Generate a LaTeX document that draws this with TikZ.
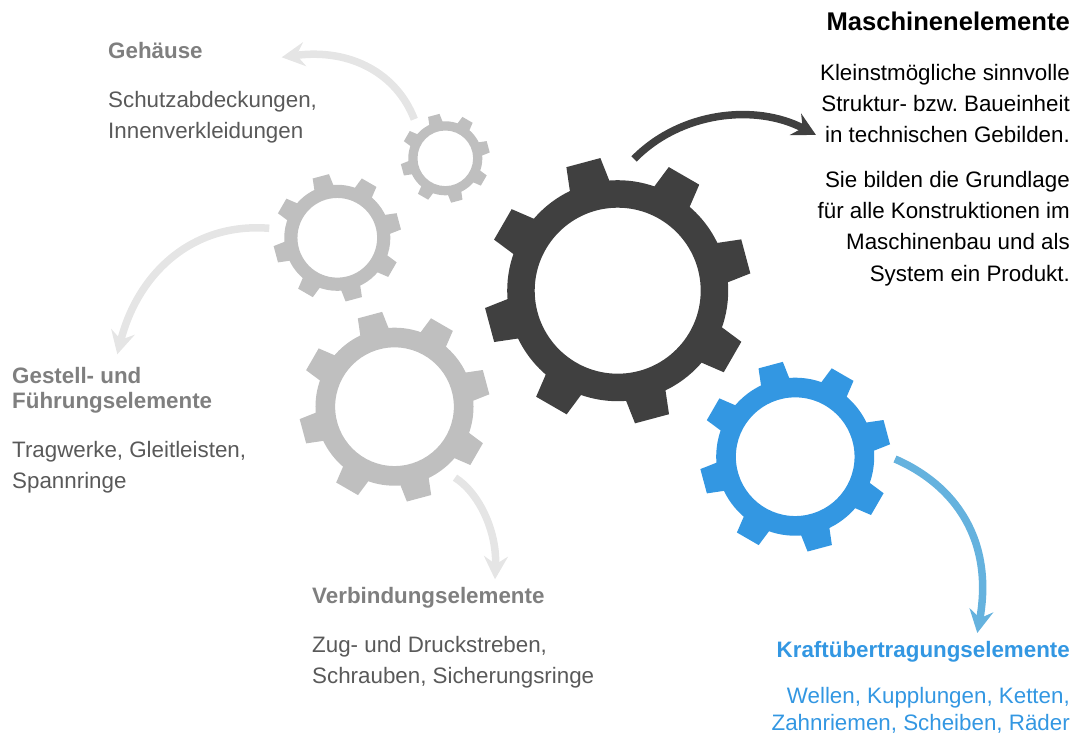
\documentclass[tikz,border=0pt]{standalone}
\usepackage{fontspec}
\setmainfont{Liberation Sans}
\frenchspacing
\usetikzlibrary{arrows.meta}
\definecolor{gearDark}{HTML}{404040}
\definecolor{gearGray}{HTML}{BFBFBF}
\definecolor{gearBlue}{HTML}{3397E2}
\definecolor{arrGray}{HTML}{E5E5E5}
\definecolor{arrBlue}{HTML}{65B2DE}
\definecolor{headGray}{HTML}{7F7F7F}
\definecolor{bodyGray}{HTML}{595959}
\definecolor{textBlue}{HTML}{3397E2}
% #1 centre name, #2 x, #3 y, #4 scale, #5 colour
\newcommand{\gearshape}[5]{%
  \coordinate (#1) at (#2,#3);
  \begin{scope}[shift={(#1)},scale=#4,x=1pt,y=1pt]
    \fill[#5,even odd rule] (0,0) circle[radius=110.5] (0,0) circle[radius=83];
    \foreach \a in {15,60,...,330}{
      \fill[#5,rotate=\a] (105,-20.8) -- (132.6,-17.6) -- (132.6,17.6) -- (105,20.8) -- cycle;
    }
  \end{scope}%
}
\tikzset{
  x=1pt,y=-1pt,
  flow/.style={line width=7.5pt,-{Stealth[length=23pt,width=24pt,inset=8pt]}},
  title/.style={anchor=north west,align=left,font=\fontsize{22.35}{25}\selectfont\bfseries,text=headGray,inner sep=0pt},
  desc/.style={anchor=north west,align=left,font=\fontsize{22.35}{31}\selectfont,text=bodyGray,inner sep=0pt},
  rdesc/.style={anchor=north east,align=right,font=\fontsize{22.35}{31.3}\selectfont,text=black,inner sep=0pt},
}
\begin{document}
\begin{tikzpicture}
\useasboundingbox (0,0) rectangle (1082,746);
\gearshape{g1}{445.3}{158.3}{.335}{gearGray}
\gearshape{g2}{337.3}{237.8}{.48}{gearGray}
\gearshape{g3}{394.5}{406.7}{.715}{gearGray}
\gearshape{g4}{617.7}{290.7}{1}{gearDark}
\gearshape{g5}{795.2}{456.7}{.715}{gearBlue}
\coordinate (a1s) at (414.3,119.3); \coordinate (a1e) at (281.7,57.3);
\coordinate (a2s) at (269.3,228.3); \coordinate (a2e) at (117.3,354.3);
\coordinate (a3s) at (455,477.7);   \coordinate (a3e) at (495,579.3);
\coordinate (a4s) at (634,159);     \coordinate (a4e) at (816,135);
\coordinate (a5s) at (895,459);     \coordinate (a5e) at (977.3,633);
\draw[flow,arrGray] (a1s) .. controls (397,74) and (351,48) .. (a1e);
\draw[flow,arrGray] (a2s) .. controls (190,222) and (137,276) .. (a2e);
\draw[flow,arrGray] (a3s) .. controls (478,492) and (497,530) .. (a3e);
\draw[flow,gearDark] (a4s) .. controls (680,112) and (755,103) .. (a4e);
\draw[flow,arrBlue] (a5s) .. controls (955,485) and (994,540) .. (a5e);
\node[title] (t1) at (108,42) {Gehäuse};
\node[desc] (d1) at (108,91) {Schutzabdeckungen,\\Innenverkleidungen};
\node[title] (t2) at (12,367) {Gestell- und\\Führungselemente};
\node[desc] (d2) at (12,441) {Tragwerke, Gleitleisten,\\Spannringe};
\node[title] (t3) at (312,587) {Verbindungselemente};
\node[desc] (d3) at (312,636) {Zug- und Druckstreben,\\Schrauben, Sicherungsringe};
\node[anchor=north east,inner sep=0pt,font=\fontsize{25.6}{30}\selectfont\bfseries,text=black] (t4) at (1070,12) {Maschinenelemente};
\node[rdesc] (d4) at (1070,64) {Kleinstmögliche sinnvolle\\Struktur- bzw. Baueinheit\\in technischen Gebilden.};
\node[rdesc] (d5) at (1070,171) {Sie bilden die Grundlage\\für alle Konstruktionen im\\Maschinenbau und als\\System ein Produkt.};
\node[anchor=north east,inner sep=0pt,font=\fontsize{22.35}{30}\selectfont\bfseries,text=textBlue] (t5) at (1070,641) {Kraftübertragungselemente};
\node[anchor=north east,align=right,inner sep=0pt,font=\fontsize{22.35}{27}\selectfont,text=textBlue] (d6) at (1070,687) {Wellen, Kupplungen, Ketten,\\Zahnriemen, Scheiben, Räder};
\end{tikzpicture}
\end{document}
